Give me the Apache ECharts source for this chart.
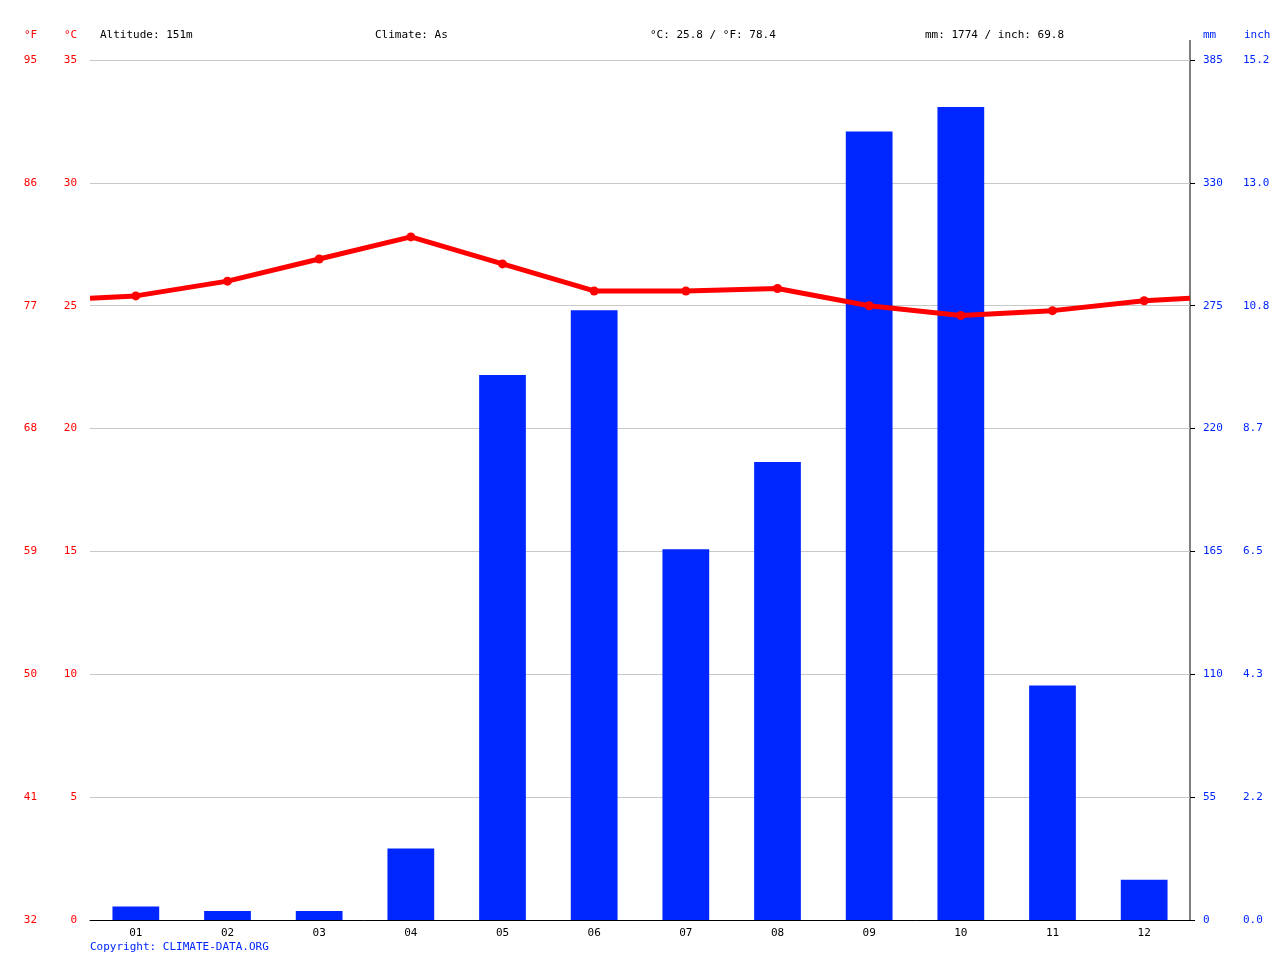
<!DOCTYPE html>
<html>
<head>
<meta charset="utf-8">
<script src="https://cdn.jsdelivr.net/npm/echarts@6/dist/echarts.min.js"></script>
<style>html,body{margin:0;padding:0;background:#fff}#chart{width:1280px;height:960px}</style>
</head>
<body>
<div id="chart"></div>
<script>
var months = ['01', '02', '03', '04', '05', '06', '07', '08', '09', '10', '11', '12'];
var precipMm = [6, 4, 4, 32, 244, 273, 166, 205, 353, 364, 105, 18];
var tempC = [25.4, 26.0, 26.9, 27.8, 26.7, 25.6, 25.6, 25.7, 25.0, 24.6, 24.8, 25.2];
var tempEdgeStart = 25.3, tempEdgeEnd = 25.3;
var headers = ['Altitude: 151m', 'Climate: As', '°C: 25.8 / °F: 78.4', 'mm: 1774 / inch: 69.8'];

var font = 'DejaVu Sans Mono';
var linePts = [[0, tempEdgeStart]];
tempC.forEach(function (t, i) { linePts.push([i + 0.5, t]); });
linePts.push([12, tempEdgeEnd]);

var chart = echarts.init(document.getElementById('chart'));
chart.setOption({
    animation: false,
    textStyle: { fontFamily: font },
    grid: { left: 90, right: 90, top: 60, bottom: 40 },
    graphic: [
        { type: 'text', left: 100, top: 30, style: { text: headers[0], font: '11px ' + font, fill: '#000' } },
        { type: 'text', left: 375, top: 30, style: { text: headers[1], font: '11px ' + font, fill: '#000' } },
        { type: 'text', left: 650, top: 30, style: { text: headers[2], font: '11px ' + font, fill: '#000' } },
        { type: 'text', left: 925, top: 30, style: { text: headers[3], font: '11px ' + font, fill: '#000' } },
        { type: 'text', left: 24, top: 30, style: { text: '°F', font: '11px ' + font, fill: '#ff0000' } },
        { type: 'text', left: 64, top: 30, style: { text: '°C', font: '11px ' + font, fill: '#ff0000' } },
        { type: 'text', left: 1203, top: 30, style: { text: 'mm', font: '11px ' + font, fill: '#0026ff' } },
        { type: 'text', left: 1244, top: 30, style: { text: 'inch', font: '11px ' + font, fill: '#0026ff' } },
        { type: 'text', left: 90, top: 942, style: { text: 'Copyright: CLIMATE-DATA.ORG', font: '11px ' + font, fill: '#0026ff' } },
        { type: 'line', shape: { x1: 1190, y1: 40, x2: 1190, y2: 920 }, style: { stroke: '#000', lineWidth: 1 } }
    ],
    xAxis: [
        {
            type: 'category', data: months, boundaryGap: true,
            axisLine: { lineStyle: { color: '#000' } },
            axisTick: { lineStyle: { color: '#000' } },
            axisLabel: { color: '#000', fontSize: 11, fontFamily: font }
        },
        { type: 'value', min: 0, max: 12, show: false }
    ],
    yAxis: [
        {
            type: 'value', min: 0, max: 35, interval: 5, position: 'left',
            axisLine: { show: false }, axisTick: { show: false },
            splitLine: { lineStyle: { color: '#c8c8c8' } },
            axisLabel: { color: '#ff0000', fontSize: 11, fontFamily: font, margin: 13 }
        },
        {
            type: 'value', min: 0, max: 35, interval: 5, position: 'left', offset: 40,
            axisLine: { show: false }, axisTick: { show: false }, splitLine: { show: false },
            axisLabel: { color: '#ff0000', fontSize: 11, fontFamily: font, margin: 13,
                formatter: function (v) { return Math.round(v * 1.8 + 32); } }
        },
        {
            type: 'value', min: 0, max: 385, interval: 55, position: 'right',
            axisLine: { show: false },
            axisTick: { show: true, length: 5, inside: false, lineStyle: { color: '#000' } },
            splitLine: { show: false },
            axisLabel: { color: '#0026ff', fontSize: 11, fontFamily: font, margin: 13 }
        },
        {
            type: 'value', min: 0, max: 385, interval: 55, position: 'right', offset: 40,
            axisLine: { show: false }, axisTick: { show: false }, splitLine: { show: false },
            axisLabel: { color: '#0026ff', fontSize: 11, fontFamily: font, margin: 13,
                formatter: function (v) { return (v / 25.4).toFixed(1); } }
        }
    ],
    series: [
        {
            type: 'bar', data: precipMm, xAxisIndex: 0, yAxisIndex: 2,
            barWidth: '51%', itemStyle: { color: '#0026ff' }
        },
        {
            type: 'line', data: linePts, xAxisIndex: 1, yAxisIndex: 0,
            lineStyle: { color: '#ff0000', width: 5 },
            itemStyle: { color: '#ff0000' },
            symbol: 'circle', symbolSize: function (v, p) { return (p.dataIndex === 0 || p.dataIndex === 13) ? 0 : 9; }
        }
    ]
});
</script>
</body>
</html>
